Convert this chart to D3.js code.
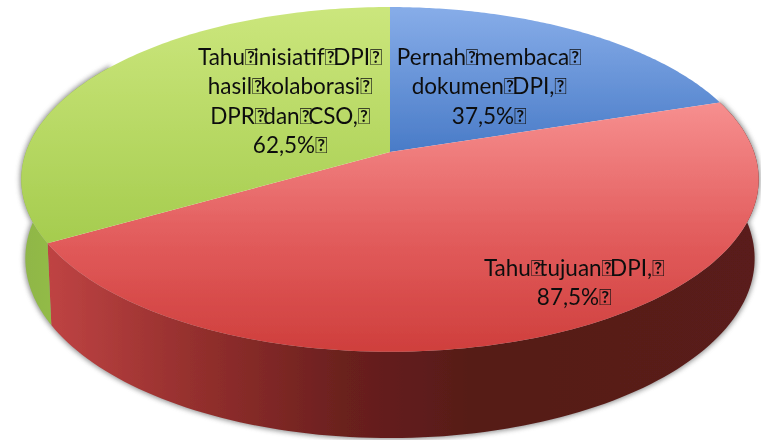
<!DOCTYPE html>
<html><head><meta charset="utf-8">
<script src="https://cdnjs.cloudflare.com/ajax/libs/d3/7.8.5/d3.min.js"></script>
<style>html,body{margin:0;padding:0;background:#fff}svg{display:block}</style></head>
<body><div id="chart"></div>
<script>
const categories = ["Pernah membaca dokumen DPI", "Tahu tujuan DPI", "Tahu inisiatif DPI hasil kolaborasi DPR dan CSO"];
const values = [37.5, 87.5, 62.5];
const valueLabels = ["37,5%", "87,5%", "62,5%"];
const G = "\uF020";
const labelLines = [
  ["Pernah" + G + "membaca" + G, "dokumen" + G + "DPI," + G, valueLabels[0] + G],
  ["Tahu" + G + "tujuan" + G + "DPI," + G, valueLabels[1] + G],
  ["Tahu" + G + "inisiatif" + G + "DPI" + G, "hasil" + G + "kolaborasi" + G, "DPR" + G + "dan" + G + "CSO," + G, valueLabels[2] + G]
];
const labelCentres = [[489, 65], [574, 276], [290, 65]];
const W = 761, H = 440;
const topDisk = {cx: 390, cy: 152, rx: 364, ry: 168, k: 0.159};
const bottomDisk = {cx: 390, cy: 230, rx: 360, ry: 175, k: 0.159};

function proj(d, theta) {
  const u = Math.sin(theta), v = Math.cos(theta), s = 1 / (1 + d.k * v);
  return [d.cx + d.rx * u * s, d.cy - d.ry * v * s];
}
const thetas = (a, b) => d3.range(0, 121).map(i => a + (b - a) * i / 120);
const line = d3.line();

const arcs = d3.pie().sort(null).value(d => d)(values);
const svg = d3.select("#chart").append("svg").attr("width", W).attr("height", H);
const defs = svg.append("defs");

function grad(id, attrs, stops) {
  const g = defs.append("linearGradient").attr("id", id).attr("gradientUnits", "userSpaceOnUse");
  Object.entries(attrs).forEach(([k, v]) => g.attr(k, v));
  stops.forEach(([o, c]) => g.append("stop").attr("offset", o).attr("stop-color", c));
}
grad("gBlue", {x1: 0, y1: 10, x2: 0, y2: 150}, [[0, "#86ace8"], [1, "#4a7cc8"]]);
grad("gRed", {x1: 0, y1: 100, x2: 0, y2: 350}, [[0, "#f79090"], [0.55, "#e25c5c"], [1, "#cf3f3d"]]);
grad("gGreen", {x1: 0, y1: 10, x2: 0, y2: 245}, [[0, "#cbe67c"], [1, "#a5cc4e"]]);
grad("gSideRed", {x1: 45, y1: 0, x2: 760, y2: 0}, [[0, "#c04444"], [0.2, "#96302e"], [0.42, "#6a201e"], [0.6, "#561a18"], [1, "#5a1c1a"]]);
grad("gSideGreen", {x1: 20, y1: 0, x2: 50, y2: 0}, [[0, "#8fb548"], [1, "#92bb46"]]);

const blur = defs.append("filter").attr("id", "shadow").attr("x", "-5%").attr("y", "-5%").attr("width", "110%").attr("height", "110%");
blur.append("feGaussianBlur").attr("stdDeviation", 2.5);
const soft = defs.append("filter").attr("id", "soft");
soft.append("feGaussianBlur").attr("stdDeviation", 0.6);
const softText = defs.append("filter").attr("id", "softText");
softText.append("feGaussianBlur").attr("stdDeviation", 0.35);

const sideRange = [[arcs[1].startAngle, arcs[1].endAngle], [arcs[2].startAngle, arcs[2].startAngle + 1.1]];
const sideFill = ["url(#gSideRed)", "url(#gSideGreen)"];
const ribbon = ([a, b]) => line([...thetas(a, b).map(t => proj(topDisk, t)), ...thetas(b, a).map(t => proj(bottomDisk, t))]) + "Z";

svg.append("path").attr("d", ribbon([arcs[1].startAngle, arcs[2].startAngle + 1.1]))
  .attr("fill", "#666").attr("stroke", "#666").attr("stroke-width", 3).attr("opacity", 0.7).attr("filter", "url(#shadow)");

const marks = svg.append("g").attr("filter", "url(#soft)");
marks.selectAll("path.side").data(sideRange).join("path").attr("class", "side")
  .attr("d", ribbon).attr("fill", (d, i) => sideFill[i]);

const topFill = ["url(#gBlue)", "url(#gRed)", "url(#gGreen)"];
marks.selectAll("path.top").data(arcs).join("path").attr("class", "top")
  .attr("d", d => line([[topDisk.cx, topDisk.cy], ...thetas(d.startAngle, d.endAngle).map(t => proj(topDisk, t))]) + "Z")
  .attr("fill", (d, i) => topFill[i]);

const lh = 29.4;
labelLines.forEach((lines, i) => {
  const t = svg.append("text").attr("text-anchor", "middle").attr("filter", "url(#softText)")
    .attr("font-family", "Lato, sans-serif").attr("font-size", 22.5).attr("fill", "#111");
  lines.forEach((l, j) => {
    l.split(G).forEach((part, n, all) => {
      const s = part + (n < all.length - 1 ? G : "");
      if (!s) return;
      const ts = t.append("tspan").text(s);
      if (n === 0) ts.attr("x", labelCentres[i][0]).attr("y", labelCentres[i][1] + j * lh);
      else ts.attr("dx", -3.5);
    });
  });
});
</script></body></html>
